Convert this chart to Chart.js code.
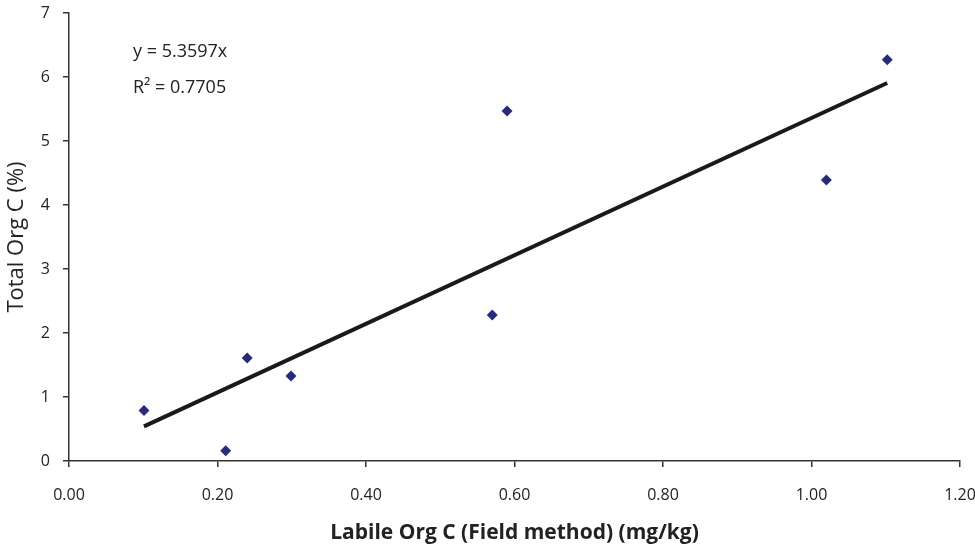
<!DOCTYPE html>
<html><head><meta charset="utf-8">
<script src="https://cdn.jsdelivr.net/npm/chart.js@4.4.1/dist/chart.umd.min.js"></script>
<style>html,body{margin:0;padding:0;background:#fff;}#wrap{width:975px;height:546px;}</style>
</head><body><div id="wrap"><canvas id="c" width="975" height="546"></canvas></div>
<script>
const labileC = [0.101, 0.211, 0.240, 0.299, 0.570, 0.590, 1.020, 1.102];
const totalC  = [0.79, 0.16, 1.61, 1.33, 2.28, 5.47, 4.39, 6.27];
const slope = 5.3597;
const r2 = 0.7705;
const xTicks = [0, 0.2, 0.4, 0.6, 0.8, 1.0, 1.2];
const yTicks = [0, 1, 2, 3, 4, 5, 6, 7];

const pts = labileC.map((x, i) => ({x, y: totalC[i]}));
const xmin = Math.min(...labileC), xmax = Math.max(...labileC);
const trend = [{x: xmin, y: slope * xmin}, {x: xmax, y: slope * xmax}];
const FONT = "'Open Sans', 'DejaVu Sans', sans-serif";

const annot = {
  id: 'annot',
  afterDatasetsDraw(chart) {
    const ctx = chart.ctx, a = chart.chartArea;
    ctx.save();
    ctx.fillStyle = '#222';
    ctx.font = "18px " + FONT;
    ctx.textBaseline = 'middle';
    ctx.fillText('y = ' + slope + 'x', a.left + 64, 52);
    ctx.fillText('R\u00B2 = ' + r2.toFixed(4), a.left + 64, 88);
    ctx.restore();
  }
};

new Chart(document.getElementById('c'), {
  type: 'scatter',
  data: { datasets: [
    { data: pts, pointStyle: 'rectRot', pointRadius: 5.5, pointHoverRadius: 5.5,
      backgroundColor: '#2A2A7A', borderColor: '#2A2A7A', borderWidth: 0, order: 1 },
    { data: trend, showLine: true, pointRadius: 0, borderColor: '#1a1a1a', borderWidth: 4, order: 2 }
  ]},
  options: {
    responsive: false, animation: false, devicePixelRatio: 1,
    layout: { padding: { top: 13, right: 15, left: 0, bottom: 0 } },
    plugins: { legend: { display: false }, tooltip: { enabled: false } },
    scales: {
      x: {
        type: 'linear', min: 0, max: 1.2,
        afterBuildTicks: s => { s.ticks = xTicks.map(v => ({value: v})); },
        ticks: { callback: v => v.toFixed(2), color: '#222', font: { family: FONT, size: 16 }, padding: 19 },
        grid: { display: true, drawOnChartArea: false, drawTicks: true, tickLength: 6, color: '#333', lineWidth: 1.5 },
        border: { color: '#333', width: 1.5 },
        title: { display: true, text: 'Labile Org C (Field method) (mg/kg)', color: '#222',
                 font: { family: FONT, size: 21, weight: 'bold' }, padding: { top: 1, bottom: 0 } },
        afterFit: s => { s.height = 85; s.paddingLeft = 0; s.paddingRight = 0; }
      },
      y: {
        type: 'linear', min: 0, max: 7,
        afterBuildTicks: s => { s.ticks = yTicks.map(v => ({value: v})); },
        ticks: { color: '#222', font: { family: FONT, size: 16 }, padding: 13 },
        grid: { display: true, drawOnChartArea: false, drawTicks: true, tickLength: 6, color: '#333', lineWidth: 1.5 },
        border: { color: '#333', width: 1.5 },
        title: { display: true, text: 'Total Org C (%)', color: '#222',
                 font: { family: FONT, size: 22 }, padding: { top: 4, bottom: 0 } },
        afterFit: s => { s.width = 69; s.paddingTop = 0; s.paddingBottom = 0; }
      }
    }
  },
  plugins: [annot]
});
</script></body></html>
